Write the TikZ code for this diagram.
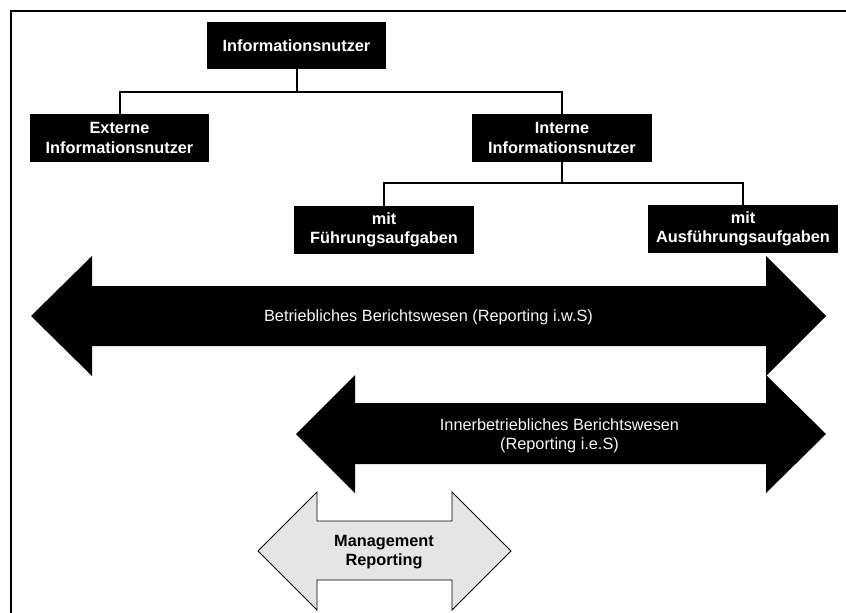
\documentclass[tikz,border=0pt]{standalone}
\usepackage{fontspec}
\setmainfont{Liberation Sans}
\begin{document}
\begin{tikzpicture}[x=1pt,y=-1pt,
  box/.style={fill=black, text=white, inner sep=0pt, align=center,
    font=\bfseries\fontsize{16.3}{19.3}\selectfont},
  link/.style={line width=2pt},
  frameline/.style={line width=2pt},
  darrow/.style={fill=black},
  larrow/.style={fill=black!10, draw=black, line width=0.9pt, line join=miter},
  darrowtext/.style={text=black!3, inner sep=0pt, align=center,
    font=\fontsize{16.3}{19}\selectfont},
  larrowtext/.style={text=black, inner sep=0pt, align=center,
    font=\bfseries\fontsize{16.3}{19}\selectfont}]
\useasboundingbox (0,0) rectangle (846,613);
\fill[white] (0,0) rectangle (846,613);

% open frame: top and left edge
\draw[frameline] (846,10.5) -- (10.5,10.5) -- (10.5,613);

% hierarchy of users
\node[box, minimum width=179pt, minimum height=47pt] (top) at (296.5,45.5) {Informationsnutzer};
\node[box, minimum width=179pt, minimum height=48pt] (ext) at (119.5,138) {Externe\\Informationsnutzer};
\node[box, minimum width=180pt, minimum height=48pt] (int) at (562,138) {Interne\\Informationsnutzer};
\node[box, minimum width=180pt, minimum height=48pt] (fue) at (384,230) {mit\\Führungsaufgaben};
\node[box, minimum width=190pt, minimum height=48pt] (aus) at (743,229) {mit\\Ausführungsaufgaben};

\coordinate (j1) at (296.5,92);
\coordinate (j2) at (562,183);
\draw[link] (top.south) -- (j1);
\draw[link] (ext.north) |- (j1) -| (int.north);
\draw[link] (int.south) -- (j2);
\draw[link] (fue.north) |- (j2) -| (aus.north);

% reporting ranges as double arrows
\fill[darrow] (31,316) -- (92,256) -- (92,286) -- (766,286) -- (766,256)
  -- (826,316) -- (766,376) -- (766,346) -- (92,346) -- (92,376) -- cycle;
\node[darrowtext] (iws) at (428.5,317) {Betriebliches Berichtswesen (Reporting i.w.S)};

\fill[darrow] (296,434) -- (355,375) -- (355,403) -- (766,403) -- (766,375)
  -- (826,434) -- (766,493) -- (766,464) -- (355,464) -- (355,493) -- cycle;
\node[darrowtext] (ies) at (559.5,436) {Innerbetriebliches Berichtswesen\\(Reporting i.e.S)};

\draw[larrow] (258,551) -- (317,492) -- (317,521) -- (452,521) -- (452,492)
  -- (511,551) -- (452,610) -- (452,580) -- (317,580) -- (317,610) -- cycle;
\node[larrowtext] (mr) at (384,552) {Management\\Reporting};
\end{tikzpicture}
\end{document}
